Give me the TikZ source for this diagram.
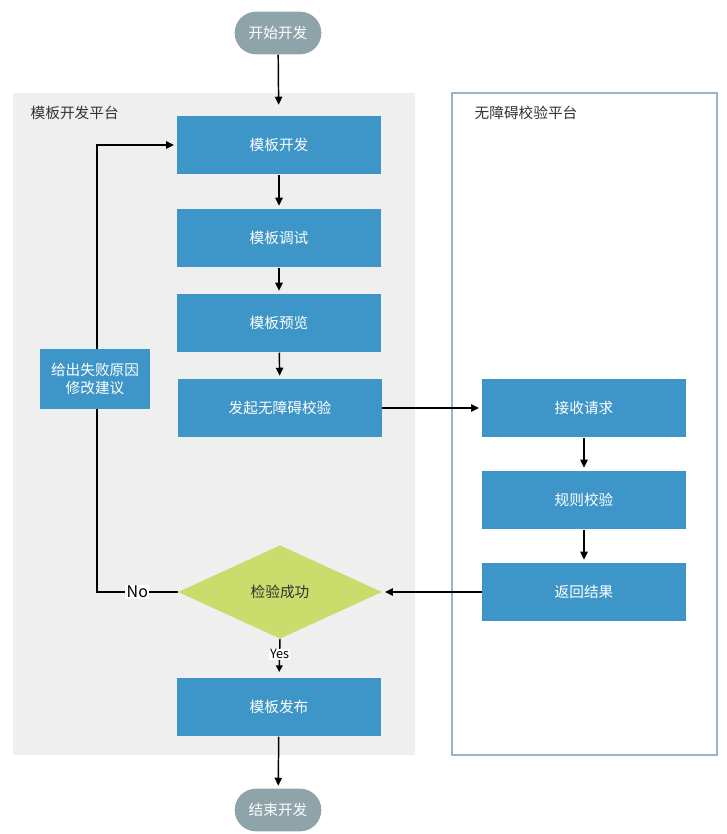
\documentclass[tikz,border=0pt]{standalone}
\usepackage{fontspec}
\setmainfont{Noto Sans CJK SC}
\usetikzlibrary{positioning,arrows.meta,shapes.geometric,calc}
\definecolor{lan}{HTML}{3E96C8}
\definecolor{hui}{HTML}{8FA4AA}
\definecolor{lv}{HTML}{C9DC6C}
\definecolor{dise}{HTML}{EFEFF0}
\definecolor{bian}{HTML}{9DB4C4}
\definecolor{zi}{HTML}{333333}

\begin{document}
\begin{tikzpicture}[x=0.75pt, y=-0.75pt, font=\fontsize{11}{13}\selectfont,
      c/.style={fill=lan, text=white, minimum width=153pt, minimum height=44pt,
                inner sep=0pt, align=center},
      pill/.style={fill=hui, text=white, rounded corners=16pt, minimum width=65pt,
                minimum height=32pt, inner sep=0pt},
      dia/.style={diamond, fill=lv, text=zi, minimum width=153pt, minimum height=70pt,
                inner sep=0pt},
      arr/.style={-{Triangle[length=6pt, width=5.5pt]}, line width=1.1pt, shorten >=2pt},
      lbl/.style={fill=white, inner sep=1pt, text=black}]
    \useasboundingbox (0,0) rectangle (726,834);
    % paneles
    \fill[dise] (13,93) rectangle (415,755);
    \draw[bian, fill=white, line width=0.9pt] (452,93) rectangle (717,755);
    \node[anchor=west, text=zi] (lp) at (26,113) {模板开发平台};
    \node[anchor=west, text=zi] (rp) at (470,113) {无障碍校验平台};

    \node[pill] (start) at (278,33) {开始开发};
    \node[c] (dev) at (279,145) {模板开发};
    \node[c] (debug) at (279,238) {模板调试};
    \node[c] (prev) at (279,323) {模板预览};
    \node[c] (req) at (280,408) {发起无障碍校验};
    \node[c] (recv) at (584,408) {接收请求};
    \node[c] (rule) at (584,500) {规则校验};
    \node[c] (ret) at (584,592) {返回结果};
    \node[dia] (chk) at (280,592) {检验成功};
    \node[c] (pub) at (279,707) {模板发布};
    \node[pill] (end) at (278,810) {结束开发};

    \draw[arr, shorten >=8pt] (start) -- (dev);
    \draw[arr] (dev) -- (debug);
    \draw[arr] (debug) -- (prev);
    \draw[arr] (prev) -- (req);
    \draw[arr] (req) -- (recv);
    \draw[arr] (recv) -- (rule);
    \draw[arr] (rule) -- (ret);
    \draw[arr] (ret) -- (chk);
    \draw[arr, -{Triangle[length=5pt, width=5pt]}, shorten >=4pt] (chk.south) -- node[lbl, inner sep=0.5pt, pos=0.4, font=\fontsize{9.5}{11}\selectfont]{Yes} (pub.north);
    \draw[arr] (pub) -- (end);
    \coordinate (back) at (97,592);
    \draw[arr] (chk.west) -- node[lbl, font=\fontsize{12}{14}\selectfont]{No} (back) |- (dev.west);
    \node[c, minimum width=82pt, minimum height=45pt] (fail) at (95,379) {给出失败原因\\修改建议};
  \end{tikzpicture}
\end{document}
